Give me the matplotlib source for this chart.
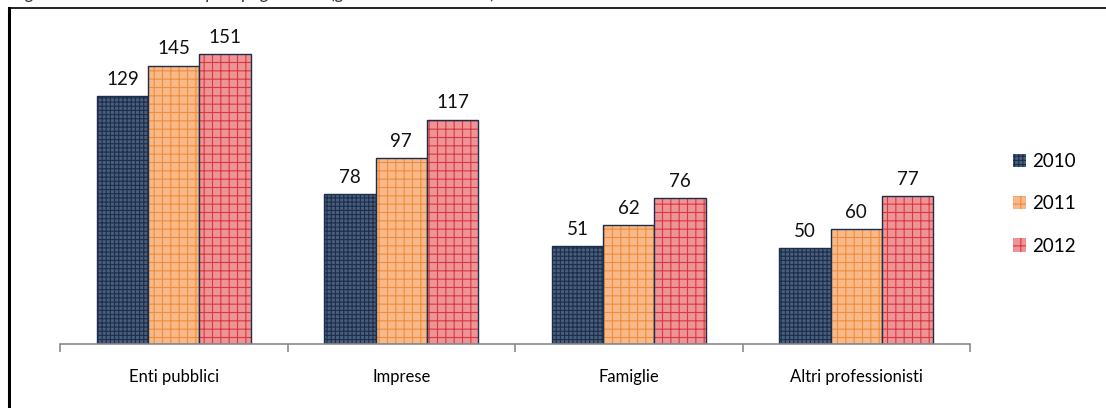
import matplotlib.pyplot as plt
import numpy as np
from matplotlib.lines import Line2D

# data
categories = ["Enti pubblici", "Imprese", "Famiglie", "Altri professionisti"]
years = ["2010", "2011", "2012"]
v2010 = [129, 78, 51, 50]
v2011 = [145, 97, 62, 60]
v2012 = [151, 117, 76, 77]

plt.rcParams['font.family'] = ['Lato', 'DejaVu Sans']
plt.rcParams['hatch.linewidth'] = 0.8

fig = plt.figure(figsize=(11.06, 4.08), dpi=100)
ax = fig.add_axes([60/1106, 1 - 344/408, 910/1106, (344 - 37)/408])

faces = ["#4A5D7C", "#F7B98A", "#EE9496"]
hatchc = ["#1B2E4A", "#F28C3A", "#D8383F"]
hatches = ["++++", "++", "++"]
outline = "#1B2E4A"

x = np.arange(len(categories))
w = 0.225
series = [v2010, v2011, v2012]
for i, vals in enumerate(series):
    pos = x + (i - 1) * w
    ax.bar(pos, vals, w, color=faces[i], edgecolor=hatchc[i], hatch=hatches[i],
           linewidth=0, label=years[i])
    ax.bar(pos, vals, w, fill=False, edgecolor=outline, linewidth=1.0)
    for px, v in zip(pos, vals):
        ax.annotate(str(v), (px, v), xytext=(0, 6), textcoords="offset points",
                    ha="center", va="bottom", fontsize=13.5, color="#111111")

ax.set_xlim(-0.5, len(categories) - 0.5)
ax.set_ylim(0, 160)
for s in ["top", "right", "left"]:
    ax.spines[s].set_visible(False)
ax.spines["bottom"].set_color("#8A8A8A")
ax.spines["bottom"].set_linewidth(1.2)
ax.set_yticks([])
ax.set_xticks(np.arange(len(categories) + 1) - 0.5, minor=False)
ax.set_xticklabels([])
ax.tick_params(axis="x", length=6, width=1.2, color="#8A8A8A")
ax.set_xticks(x, minor=True)
ax.set_xticklabels(categories, minor=True, fontsize=12)
ax.tick_params(axis="x", which="minor", length=0, pad=18)

handles, labels = ax.get_legend_handles_labels()
ax.legend(handles, labels, loc="center left", bbox_to_anchor=(936/910, 0.5 - 0.043),
          bbox_transform=ax.transAxes, frameon=False, fontsize=13.5,
          handlelength=0.7, handleheight=0.7, handletextpad=0.3, labelspacing=1.35)

# frame lines and the cut-off caption above
fig.add_artist(Line2D([9/1106, 9/1106], [0, 1 - 8/408], color="black", lw=2.2))
fig.add_artist(Line2D([9/1106, 1106/1106], [1 - 7.5/408, 1 - 7.5/408], color="black", lw=1.2))
fig.text(12/1106, 1 + 6/408, "Figura 7 \u2013 Durata dei tempi di pagamento (giorni medi di ritardo)",
         fontsize=13, style="italic", color="#333333", va="center")

fig.savefig("out.png", dpi=100)
